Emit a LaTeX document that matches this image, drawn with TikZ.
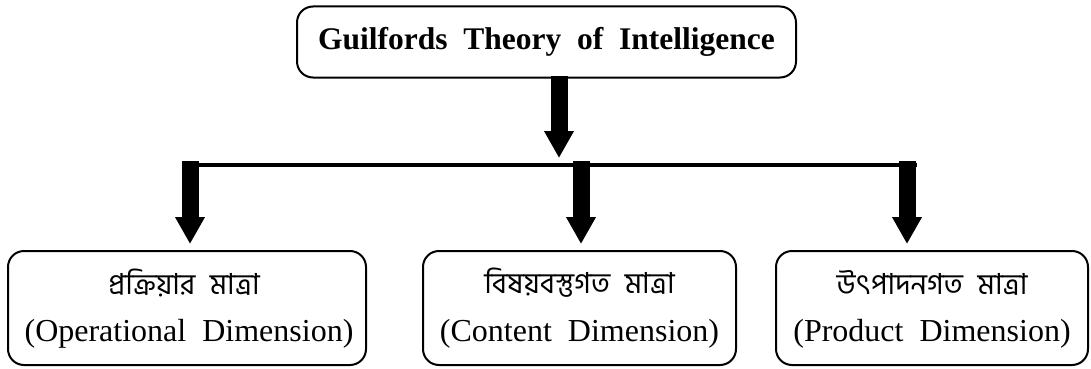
\documentclass[tikz,border=0pt]{standalone}
\usepackage{fontspec}
\setmainfont{Liberation Serif}
\newfontfamily\bn[Script=Bengali]{Hind Siliguri}
\usetikzlibrary{arrows.meta}

% wider gaps between words
\newcommand\widesp{\spaceskip=0.5em plus 0.1em\relax}

\tikzset{
  box/.style={draw, line width=2pt, rounded corners=16pt, inner sep=0pt,
    align=center, font=\widesp},
  bigarrow/.style={line width=17pt,
    -{Triangle[width=28pt,length=27pt]}},
  bar/.style={line width=4pt},
  bnline/.style={font=\bn\fontsize{29}{34}\selectfont\widesp},
  enline/.style={font=\fontsize{32}{38}\selectfont\widesp},
}

\begin{document}
\begin{tikzpicture}[x=1pt,y=-1pt]
  \useasboundingbox (0,0) rectangle (1091,369);

  % title box
  \node[box, minimum width=499pt, minimum height=71pt,
        font=\bfseries\fontsize{31.5}{38}\selectfont\widesp]
        (title) at (546.5,42) {Guilfords Theory of Intelligence};

  % the three dimension boxes
  \node[box, minimum width=358pt, minimum height=114pt] (op) at (187,308) {};
  \node[box, minimum width=313pt, minimum height=114pt] (co) at (579.5,308) {};
  \node[box, minimum width=312pt, minimum height=114pt] (pr) at (932,308) {};

  \node[bnline] (opbn) at (184,283) {প্রক্রিয়ার মাত্রা};
  \node[enline] (open) at (189,334) {(Operational Dimension)};
  \node[bnline] (cobn) at (579.5,283) {বিষয়বস্তুগত মাত্রা};
  \node[enline] (coen) at (579.5,334) {(Content Dimension)};
  \node[bnline] (prbn) at (932,283) {উৎপাদনগত মাত্রা};
  \node[enline] (pren) at (932,334) {(Product Dimension)};

  % connector points
  \coordinate (t0) at (559,76);
  \coordinate (t1) at (559,158);
  \coordinate (b1) at (190,165);
  \coordinate (b3) at (917,165);
  \coordinate (d1s) at (190,161);
  \coordinate (d2s) at (581,161);
  \coordinate (d3s) at (907,161);
  \coordinate (d1e) at (190,244);
  \coordinate (d2e) at (581,244);
  \coordinate (d3e) at (907,244);

  % horizontal bar
  \draw[bar] (b1) -- (b3);

  % arrows
  \draw[bigarrow] (t0) -- (t1);
  \draw[bigarrow] (d1s) -- (d1e);
  \draw[bigarrow] (d2s) -- (d2e);
  \draw[bigarrow] (d3s) -- (d3e);
\end{tikzpicture}
\end{document}
